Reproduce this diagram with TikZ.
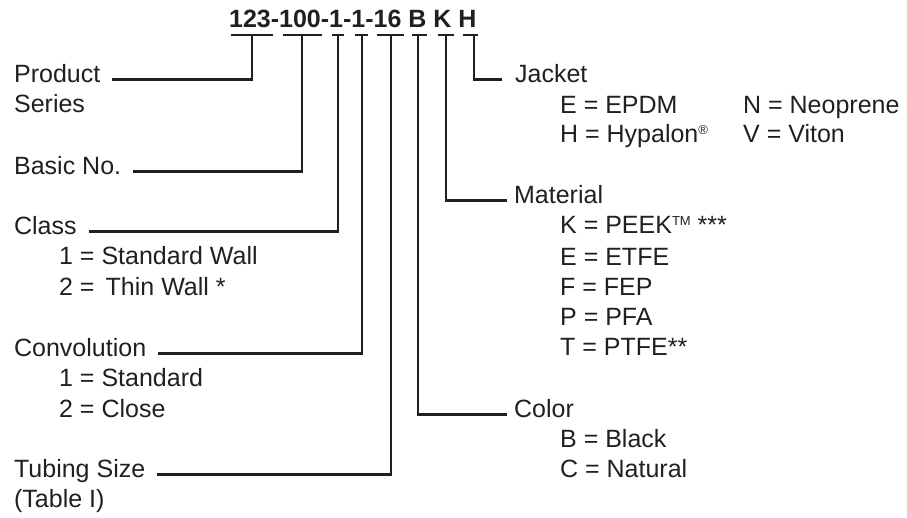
\documentclass[tikz,border=0pt]{standalone}
\usepackage{fontspec}
\setmainfont{Liberation Sans}
\definecolor{ink}{HTML}{231F20}
\newcommand{\supmark}[1]{\raisebox{7.5pt}{\fontsize{13}{13}\selectfont #1}}
\begin{document}
\begin{tikzpicture}
  [x=1pt,y=-1pt,color=ink,line width=2.3pt,
   every node/.style={inner sep=0pt,anchor=base west,font=\fontsize{25}{30}\selectfont}]
  \useasboundingbox (0,0) rectangle (907,517);
  \node[font=\bfseries\fontsize{25}{30}\selectfont] (code) at (228,27) {123-100-1-1-16 B K H};
  % left side
  \node (prod) at (13,82) {Product};
  \node (series) at (13,112) {Series};
  \node (basic) at (13,174) {Basic No.};
  \node (class) at (13,234) {Class};
   \node (cl1) at (58,264) {1 = Standard Wall};
   \node (cl2) at (58,295) {2 = \,Thin Wall *};
  \node (conv) at (13,356) {Convolution};
   \node (cv1) at (58,386) {1 = Standard};
   \node (cv2) at (58,417) {2 = Close};
  \node (tube) at (13,477) {Tubing Size};
  \node (tab) at (13,507) {(Table I)};
  % right side
  \node (jack) at (514,82) {Jacket};
   \node (j1) at (559,113) {E = EPDM};
   \node (j2) at (742,113) {N = Neoprene};
   \node (j3) at (559,142) {H = Hypalon\supmark{\textregistered}};
   \node (j4) at (742,142) {V = Viton};
  \node (mat) at (513,203) {Material};
   \node (m1) at (559,233) {K = PEEK\supmark{TM} ***};
   \node (m2) at (559,265) {E = ETFE};
   \node (m3) at (559,295) {F = FEP};
   \node (m4) at (559,325) {P = PFA};
   \node (m5) at (559,355) {T = PTFE**};
  \node (col) at (513,417) {Color};
   \node (c1) at (559,447) {B = Black};
   \node (c2) at (559,477) {C = Natural};
  % underlines
  \foreach \a/\b/\m/\n in {231/273/252/u1, 283/322/302/u2, 332/344/338/u3,
  355/368/362/u4, 377/404/391/u5, 412/427/418/u6, 438/454/446/u7, 463/478/474/u8}
  {
    \draw (\a,35) -- (\b,35);
    \coordinate (\n) at (\m,35);
  }
  \foreach \from/\to in {u1/prod,u2/basic,u3/class,u4/conv,u5/tube}
    \draw[shorten >=11pt] (\from) |- (\to.mid east);
  \foreach \from/\to/\gap in {u8/jack/12pt,u7/mat/6pt,u6/col/6pt}
    \draw[shorten >=\gap] (\from) |- (\to.mid west);
\end{tikzpicture}
\end{document}
